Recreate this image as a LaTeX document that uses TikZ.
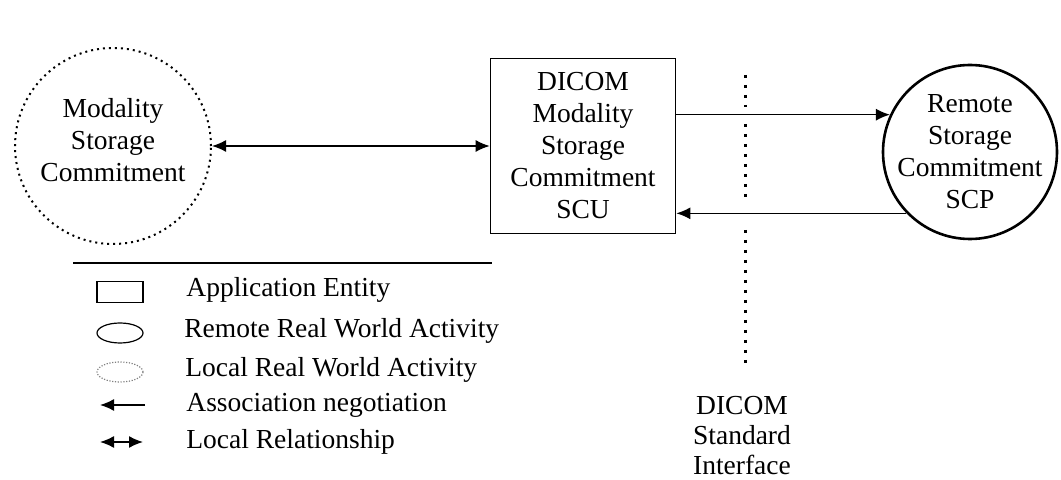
\documentclass[tikz,border=0pt]{standalone}
\usepackage{fontspec}
\setmainfont{Liberation Serif}
\usetikzlibrary{positioning, arrows.meta, shapes.geometric}

\tikzset{
    localact/.style={draw, circle, line width=1pt, dash pattern=on 1pt off 2pt},
    remoteact/.style={draw, circle, line width=1.3pt},
    acttext/.style={align=center},
    appentity/.style={draw, rectangle, line width=0.8pt, align=center},
    assoc/.style={line width=0.75pt, -{Latex[length=7pt, width=6pt]}},
    localrel/.style={line width=0.75pt, {Latex[length=7pt, width=6pt]}-{Latex[length=7pt, width=6pt]}},
    border/.style={line width=1.5pt, dash pattern=on 1.5pt off 3.5pt},
    keytext/.style={anchor=west, inner sep=0pt}
}

\begin{document}
\begin{tikzpicture}[x=0.5pt, y=-0.5pt, font=\fontsize{13.75}{16}\selectfont]
    \useasboundingbox (0,0) rectangle (1061,480);

    % Local real world activity and the application entity
    \node[localact, minimum size=98pt, label={[acttext, yshift=3pt]center:Modality\\Storage\\Commitment}] (modality) at (113,146) {};
    \node[appentity, minimum width=92.5pt, minimum height=87.5pt] (scu) at (583,146) {DICOM\\Modality\\Storage\\Commitment\\SCU};

    % Remote real world activity
    \node[remoteact, minimum size=87pt, label={[acttext]center:Remote\\Storage\\Commitment\\SCP}] (scp) at (970,152) {};

    % Connections
    \draw[localrel] (modality.east) -- (scu.west);
    \draw[assoc] (scu.east |- scp.155) -- (scp.155);
    \draw[assoc] (scp.224) -- (scp.224 -| scu.east);

    % DICOM standard interface
    \coordinate (ifacetop) at (745,75);
    \coordinate (ifacebot) at (745,363);
    \draw[border] (ifacetop) -- (745,107);
    \draw[border] (745,124) -- (745,204);
    \draw[border] (745,230) -- (ifacebot);
    \node[align=center, font=\fontsize{13.75}{15}\selectfont] (iface) at (742,436) {DICOM\\Standard\\Interface};

    % Legend
    \draw[line width=1pt] (73,263) -- (492,263);
    \node[draw, rectangle, line width=0.8pt, minimum width=23pt, minimum height=10.5pt] (keyae) at (120,292) {};
    \node[draw, ellipse, line width=0.6pt, minimum width=23pt, minimum height=10pt] (keyremote) at (120,333) {};
    \node[draw=gray, ellipse, line width=0.6pt, dash pattern=on 0.6pt off 0.8pt, minimum width=23pt, minimum height=10pt] (keylocal) at (120,372) {};
    \coordinate (keyassocA) at (145,405);
    \coordinate (keyassocB) at (100,405);
    \draw[assoc] (keyassocA) -- (keyassocB);
    \coordinate (keyrelA) at (100,442);
    \coordinate (keyrelB) at (143,442);
    \draw[localrel] (keyrelA) -- (keyrelB);

    \node[keytext] (txtae) at (186,290) {Application Entity};
    \node[keytext] (txtremote) at (184,331) {Remote Real World Activity};
    \node[keytext] (txtlocal) at (185,370) {Local Real World Activity};
    \node[keytext] (txtassoc) at (186,405) {Association negotiation};
    \node[keytext] (txtrel) at (186,442) {Local Relationship};
\end{tikzpicture}
\end{document}
